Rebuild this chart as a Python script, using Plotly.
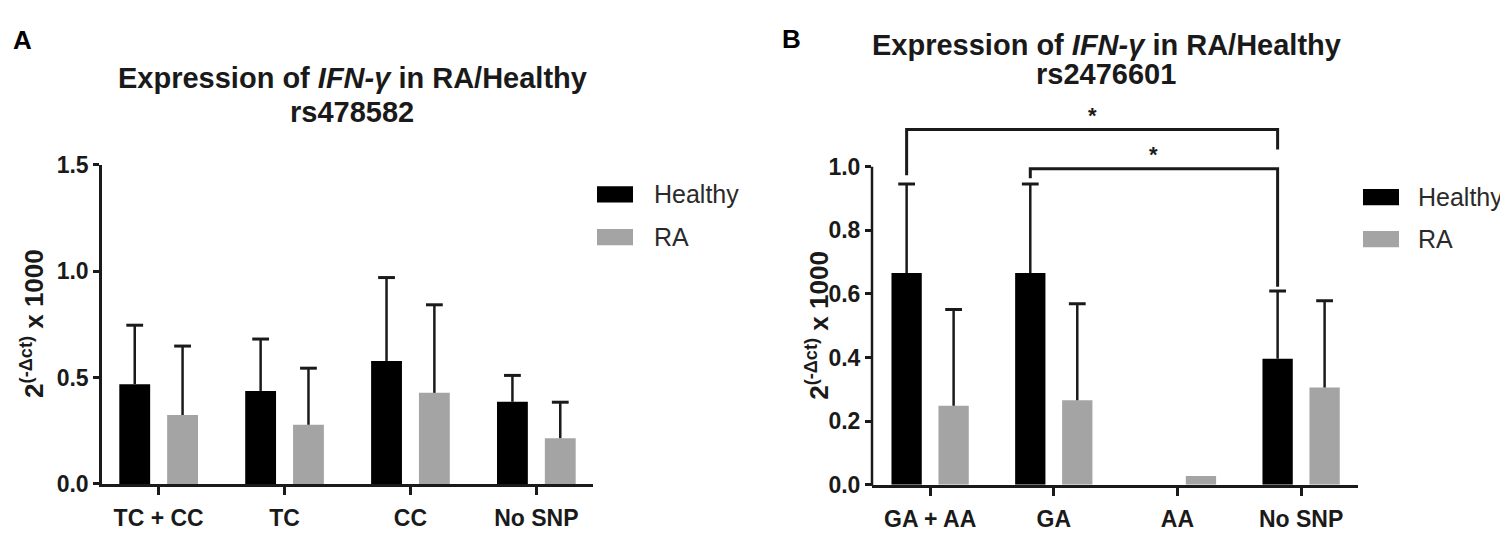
import plotly.graph_objects as go

# ---------------- data ----------------
series_names = ["Healthy", "RA"]

cats_a = ["TC + CC", "TC", "CC", "No SNP"]
healthy_a = [0.469, 0.437, 0.578, 0.386]
healthy_a_sd = [0.277, 0.244, 0.392, 0.124]
ra_a = [0.324, 0.278, 0.428, 0.215]
ra_a_sd = [0.324, 0.266, 0.414, 0.169]

cats_b = ["GA + AA", "GA", "AA", "No SNP"]
healthy_b = [0.666, 0.666, None, 0.396]
healthy_b_sd = [0.280, 0.280, None, 0.213]
ra_b = [0.249, 0.266, 0.028, 0.306]
ra_b_sd = [0.302, 0.303, None, 0.273]

ticks_a = [0.0, 0.5, 1.0, 1.5]
ticks_b = [0.0, 0.2, 0.4, 0.6, 0.8, 1.0]

# significance brackets (panel B): left group, right group, bar level, left leg end, right leg end
brackets_b = [
    (0, 3, 1.117, 0.973, 1.054),
    (1, 3, 0.994, 0.964, 0.623),
]
star_label = "*"

# ---------------- style ----------------
PAGE_MARGIN = 8          # default body margin of the html page
W, H = 1508 - PAGE_MARGIN, 555 - PAGE_MARGIN
FONT = "Liberation Sans, Arial, Helvetica, sans-serif"
INK = "#1a1a1a"
COLORS = ["#000000", "#a4a4a4"]
OFFSETS = [-0.19, 0.19]
BAR_W = 0.245

def px_x(x):
    return (x - PAGE_MARGIN) / W

def px_y(y):
    return 1 - (y - PAGE_MARGIN) / H

fig = go.Figure()

def add_panel(cats, series, sds, xa, ya):
    for k, (vals, sd) in enumerate(zip(series, sds)):
        xs = [i + OFFSETS[k] for i in range(len(cats))]
        fig.add_trace(go.Bar(
            x=xs, y=vals, width=BAR_W, name=series_names[k],
            marker=dict(color=COLORS[k], line=dict(width=0)),
            xaxis=xa, yaxis=ya, showlegend=False,
        ))
        lx, ly, cx, cy = [], [], [], []
        for x, v, s in zip(xs, vals, sd):
            if v is None or s is None:
                continue
            lx += [x, x, None]
            ly += [v, v + s, None]
            cx.append(x)
            cy.append(v + s)
        fig.add_trace(go.Scatter(
            x=lx, y=ly, mode="lines", line=dict(color=INK, width=2.5),
            xaxis=xa, yaxis=ya, showlegend=False, hoverinfo="skip",
        ))
        fig.add_trace(go.Scatter(
            x=cx, y=cy, mode="markers",
            marker=dict(symbol="line-ew", size=12, line=dict(color=INK, width=3)),
            xaxis=xa, yaxis=ya, showlegend=False, hoverinfo="skip",
        ))

add_panel(cats_a, [healthy_a, ra_a], [healthy_a_sd, ra_a_sd], "x", "y")
add_panel(cats_b, [healthy_b, ra_b], [healthy_b_sd, ra_b_sd], "x2", "y2")

# domains from pixel layout of the reference
xa_dom = [px_x(102), px_x(593)]
ya_dom = [px_y(494), px_y(159)]
xb_dom = [px_x(872), px_x(1358)]
yb_top_val = 1.2
yb_dom = [px_y(495), px_y(495 - 334 * yb_top_val)]

tickfont = dict(family=FONT, size=23, color=INK, weight="bold")

common_x = dict(showline=True, linecolor=INK, linewidth=2.5, ticks="outside",
                ticklen=8, tickwidth=2.5, tickcolor=INK, showgrid=False,
                zeroline=False, tickfont=tickfont, tickvals=[0, 1, 2, 3],
                ticklabelstandoff=4)
common_y = dict(linecolor=INK, linewidth=2.5, ticks="outside", ticklen=6,
                tickwidth=2.5, tickcolor=INK, showgrid=False, zeroline=False,
                tickfont=tickfont, tickformat=".1f")

fig.update_layout(
    width=W, height=H,
    margin=dict(l=0, r=0, t=0, b=0),
    paper_bgcolor="white", plot_bgcolor="white",
    font=dict(family=FONT, color=INK),
    xaxis=dict(domain=xa_dom, range=[-0.45, 3.45], ticktext=cats_a, anchor="y", **common_x),
    yaxis=dict(domain=ya_dom, range=[0, 1.5], tickvals=ticks_a, showline=True, anchor="x", **common_y),
    xaxis2=dict(domain=xb_dom, range=[-0.47, 3.46], ticktext=cats_b, anchor="y2", **common_x),
    yaxis2=dict(domain=yb_dom, range=[0, yb_top_val], tickvals=ticks_b, showline=False, anchor="x2", **common_y),
)

shapes = []
annotations = []

# panel B y-axis line only up to 1.0
yb_line_top = yb_dom[0] + (ticks_b[-1] / yb_top_val) * (yb_dom[1] - yb_dom[0])
shapes.append(dict(type="line", xref="paper", yref="paper",
                   x0=xb_dom[0], x1=xb_dom[0], y0=yb_dom[0] - 0.002, y1=yb_line_top,
                   line=dict(color=INK, width=2.5)))

# significance brackets
for g0, g1, lvl, l_end, r_end in brackets_b:
    x0 = g0 + OFFSETS[0]
    x1 = g1 + OFFSETS[0]
    shapes.append(dict(type="path", xref="x2", yref="y2",
                       path=f"M {x0},{l_end} L {x0},{lvl} L {x1},{lvl} L {x1},{r_end}",
                       line=dict(color=INK, width=3)))
    annotations.append(dict(x=(x0 + x1) / 2, y=lvl + 0.045, xref="x2", yref="y2",
                            text=f"<b>{star_label}</b>", showarrow=False,
                            font=dict(family=FONT, size=22, color=INK),
                            xanchor="center", yanchor="middle"))

# titles
title_font = dict(family=FONT, size=29, color=INK)
for cx, y1, y2, snp in [(352, 68, 104, "rs478582"), (1106, 33, 64, "rs2476601")]:
    annotations.append(dict(x=px_x(cx), y=px_y(y1), xref="paper", yref="paper",
                            text="<b>Expression of <i>IFN-γ</i> in RA/Healthy</b>",
                            showarrow=False, font=title_font, xanchor="center", yanchor="middle"))
    annotations.append(dict(x=px_x(cx), y=px_y(y2), xref="paper", yref="paper",
                            text=f"<b>{snp}</b>", showarrow=False, font=title_font,
                            xanchor="center", yanchor="middle"))

# panel letters
for lx, ly, letter in [(22, 28, "A"), (791, 27, "B")]:
    annotations.append(dict(x=px_x(lx), y=px_y(ly), xref="paper", yref="paper",
                            text=f"<b>{letter}</b>", showarrow=False,
                            font=dict(family=FONT, size=26, color="#000"),
                            xanchor="center", yanchor="middle"))

# y-axis titles
for tx, ty in [(33, 326), (818, 328)]:
    annotations.append(dict(x=px_x(tx), y=px_y(ty), xref="paper", yref="paper",
                            text="<b>2<sup>(-Δct)</sup> x 1000</b>", textangle=-90,
                            showarrow=False, font=dict(family=FONT, size=26, color=INK),
                            xanchor="center", yanchor="middle"))

# manual legends
for sx, tx, ys in [(597, 652, [190, 235]), (1363, 1416, [193, 237])]:
    for k, yc in enumerate(ys):
        shapes.append(dict(type="rect", xref="paper", yref="paper",
                           x0=px_x(sx), x1=px_x(sx + 36), y0=px_y(yc + 8.5), y1=px_y(yc - 8.5),
                           fillcolor=COLORS[k], line=dict(width=0)))
        annotations.append(dict(x=px_x(tx), y=px_y(yc), xref="paper", yref="paper",
                                text=series_names[k], showarrow=False,
                                font=dict(family=FONT, size=25, color="#2a2a2a"),
                                xanchor="left", yanchor="middle"))

fig.update_layout(shapes=shapes, annotations=annotations)

fig.write_html("out.html")
